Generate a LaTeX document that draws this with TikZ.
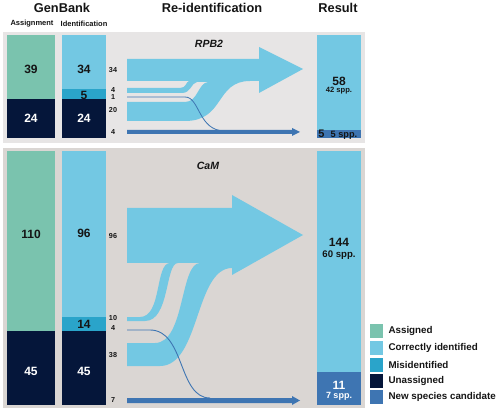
\documentclass[tikz,border=0pt]{standalone}
\usepackage{fontspec}
\setmainfont{Liberation Sans}
\definecolor{assigned}{HTML}{7AC3AE}
\definecolor{correct}{HTML}{73C8E3}
\definecolor{misid}{HTML}{2AA4CA}
\definecolor{unassigned}{HTML}{05163A}
\definecolor{newsp}{HTML}{3E75B2}
\definecolor{panelA}{HTML}{E7E5E5}
\definecolor{panelB}{HTML}{DAD6D3}
\definecolor{ink}{HTML}{151515}
\tikzset{
  head/.style={font=\fontsize{12.8}{13}\selectfont\bfseries, text=ink},
  sub/.style={font=\fontsize{7.5}{8}\selectfont\bfseries, text=ink},
  num/.style={font=\fontsize{12}{12}\selectfont\bfseries, text=ink},
  count/.style={font=\fontsize{7.2}{7.2}\selectfont\bfseries, text=ink},
  spp/.style={font=\fontsize{7.6}{8}\selectfont\bfseries, text=ink},
  gene/.style={font=\fontsize{10.5}{11}\selectfont\bfseries\itshape, text=ink},
  legend/.style={font=\fontsize{9.8}{10}\selectfont\bfseries, text=ink, anchor=west},
}
\begin{document}
\begin{tikzpicture}[x=1pt,y=-1pt]
  \useasboundingbox (0,0) rectangle (500,411);
  \fill[white] (0,0) rectangle (500,411);

  % Headers
  \node[head] (genbank) at (62,7.5) {GenBank};
  \node[head] (reid) at (212,7.5) {Re-identification};
  \node[head] (result) at (338,7.5) {Result};
  \node[sub] (assignment) at (32,23.5) {Assignment};
  \node[sub] (identification) at (84,23.5) {Identification};

  % Panels
  \fill[panelA] (3,32) rectangle (365,143);
  \fill[panelB] (3,148) rectangle (365,408);

  % RPB2 bars
  \fill[assigned] (7,35) rectangle (55,99);
  \fill[unassigned] (7,99) rectangle (55,138);
  \fill[correct] (62,35) rectangle (106,89);
  \fill[misid] (62,89) rectangle (106,99);
  \fill[unassigned] (62,99) rectangle (106,138);
  \node[num] (rasg) at (31,69) {39};
  \node[num, text=white] (runa) at (31,118) {24};
  \node[num] (rcor) at (84,69) {34};
  \node[num] (rmis) at (84,95) {5};
  \node[num, text=white] (runi) at (84,118) {24};

  \node[count] (rc34) at (113,70) {34};
  \node[count] (rc4) at (113,90) {4};
  \node[count] (rc1) at (113,97) {1};
  \node[count] (rc20) at (113,110) {20};
  \node[count] (rcn4) at (113,132) {4};
  \node[gene] (rpb) at (209,44) {RPB2};

  % RPB2 flows
  \fill[correct] (127,59) -- (259,59) -- (259,47) -- (303,69) -- (259,93) -- (259,81)
        -- (250,81) .. controls (215,81) and (225,121) .. (185,121) -- (127,121)
        -- (127,102) -- (185,102) .. controls (198,102) and (198,83) .. (208,82)
        -- (197,82) .. controls (191,83) and (191,93) .. (182,93) -- (127,93)
        -- (127,88) -- (180,88) .. controls (186,88) and (186,82) .. (189,81)
        -- (127,81) -- cycle;
  \draw[newsp, line width=0.8pt] (127,97) -- (185,97) .. controls (200,97) and (198,131) .. (225,131);
  \fill[newsp] (127,130) -- (292,130) -- (292,128) -- (300,132) -- (292,136) -- (292,134) -- (127,134) -- cycle;

  % RPB2 result
  \fill[correct] (317,35) rectangle (361,130);
  \fill[newsp] (317,130) rectangle (361,138);
  \node[num] (r58) at (339,81) {58};
  \node[spp] (r42) at (339,91) {42 spp.};
  \node[font=\fontsize{11}{11}\selectfont\bfseries, text=ink] (r5) at (321.5,134) {5};
  \node[font=\fontsize{9.2}{9.2}\selectfont\bfseries, text=ink] (r5s) at (344,135) {5 spp.};

  % CaM bars
  \fill[assigned] (7,151) rectangle (55,331);
  \fill[unassigned] (7,331) rectangle (55,405);
  \fill[correct] (62,151) rectangle (106,317);
  \fill[misid] (62,317) rectangle (106,331);
  \fill[unassigned] (62,331) rectangle (106,405);
  \node[num] (casg) at (31,234) {110};
  \node[num, text=white] (cuna) at (31,371) {45};
  \node[num] (ccor) at (84,233) {96};
  \node[num] (cmis) at (84,324) {14};
  \node[num, text=white] (cuni) at (84,371) {45};

  \node[count] (cc96) at (113,236) {96};
  \node[count] (cc10) at (113,318) {10};
  \node[count] (cc4) at (113,328) {4};
  \node[count] (cc38) at (113,355) {38};
  \node[count] (cc7) at (113,400) {7};
  \node[gene] (cam) at (208,166) {CaM};

  % CaM flows
  \fill[correct] (127,208) -- (232,208) -- (232,195) -- (303,235) -- (232,275) -- (232,268)
        .. controls (195,268) and (200,366) .. (160,366) -- (127,366)
        -- (127,343) -- (155,343) .. controls (185,343) and (180,263) .. (200,263)
        -- (178,263) .. controls (165,263) and (170,321) .. (145,321) -- (127,321)
        -- (127,317) -- (140,317) .. controls (162,317) and (155,263) .. (170,263)
        -- (127,263) -- cycle;
  \draw[newsp, line width=0.9pt] (127,330) -- (150,330) .. controls (185,330) and (178,398) .. (210,398);
  \fill[newsp] (127,398) -- (292,398) -- (292,396) -- (300,400.5) -- (292,405) -- (292,403) -- (127,403) -- cycle;

  % CaM result
  \fill[correct] (317,151) rectangle (361,372);
  \fill[newsp] (317,372) rectangle (361,405);
  \node[num] (c144) at (339,242) {144};
  \node[font=\fontsize{9.6}{10}\selectfont\bfseries, text=ink] (c60) at (339,255) {60 spp.};
  \node[num, text=white] (c11) at (339,385) {11};
  \node[font=\fontsize{9}{9}\selectfont\bfseries, text=white] (c7) at (339,396) {7 spp.};

  % Legend
  \fill[assigned] (370,324) rectangle (383,338);
  \fill[correct] (370,341) rectangle (383,355);
  \fill[misid] (370,358) rectangle (383,372);
  \fill[unassigned] (370,374) rectangle (383,388);
  \fill[newsp] (370,390) rectangle (383,404);
  \node[legend] (lasg) at (385,331) {Assigned};
  \node[legend] (lcor) at (385,348) {Correctly identified};
  \node[legend] (lmis) at (385,365) {Misidentified};
  \node[legend] (luna) at (385,381) {Unassigned};
  \node[legend] (lnew) at (385,397) {New species candidate};
\end{tikzpicture}
\end{document}
